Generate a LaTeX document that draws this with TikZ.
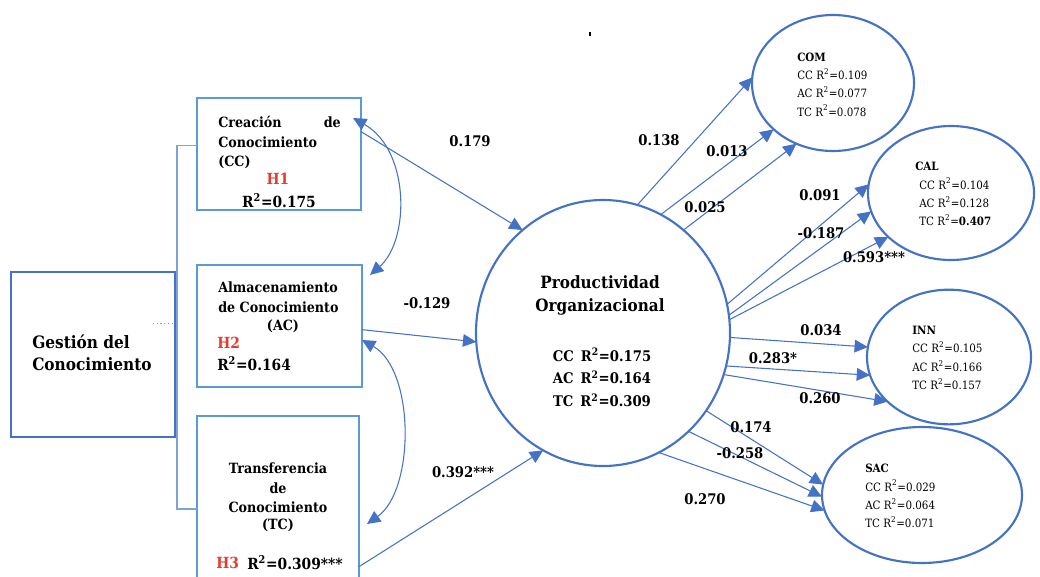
\documentclass[tikz,border=0pt]{standalone}
\usepackage{fontspec}
\IfFontExistsTF{DejaVu Serif Condensed}{\setmainfont{DejaVu Serif Condensed}}{\setmainfont{DejaVu Serif}}
\usetikzlibrary{shapes.geometric,arrows.meta,calc}
\definecolor{edge}{HTML}{4472C4}
\definecolor{boxline}{HTML}{5B9BD5}
\definecolor{thinline}{HTML}{7FA3D9}
\definecolor{hred}{HTML}{E8392F}
\begin{document}
\begin{tikzpicture}[x=0.75pt,y=-0.75pt,
  sbox/.style={draw=boxline,line width=1.6pt,anchor=north west,inner sep=0,outer sep=0},
  mbox/.style={draw=edge,line width=1.8pt,anchor=north west,inner sep=0,outer sep=0},
  oval/.style={draw=edge,line width=1.6pt,ellipse,inner sep=0,outer sep=0},
  arr/.style={draw=edge,line width=0.8pt,-{Triangle[length=10pt,width=9.5pt]}},
  dbl/.style={draw=edge,line width=0.8pt,{Triangle[length=10pt,width=9.5pt]}-{Triangle[length=10pt,width=9.5pt]}},
  link/.style={draw=thinline,line width=0.8pt},
  bt/.style={font=\bfseries\fontsize{10.6}{12}\selectfont,inner sep=0},
  rt/.style={font=\bfseries\fontsize{11.5}{13}\selectfont,inner sep=0},
  hyp/.style={font=\bfseries\fontsize{11.5}{13}\selectfont,text=hred,inner sep=0},
  lab/.style={font=\bfseries\fontsize{11}{13}\selectfont,inner sep=0},
  etxt/.style={font=\fontsize{8.6}{13.7}\selectfont,align=left,inner sep=0,anchor=west},
]
\clip (0,0) rectangle (1040,576);

% small mark near the top
\fill (589,32) rectangle (591,36);

% construct boxes
\node[sbox,minimum width=123pt,minimum height=84pt] (cc) at (197,98) {};
\node[sbox,minimum width=123.75pt,minimum height=91.5pt] (ac) at (197,265) {};
\node[sbox,minimum width=121.5pt,minimum height=139.5pt] (tc) at (197,416) {};

% bracket joining the knowledge-management box to its dimensions
\coordinate (gx) at (177,354.5);
\coordinate (ccl) at ($(cc.north west)!0.42!(cc.south west)$);
\draw[link] (ccl) -- (ccl -| gx) -- (tc.west -| gx) -- (tc.west);
\node[mbox,minimum width=123pt,minimum height=123.75pt] (gc) at (11,272) {};
\draw[link,dotted,line width=1pt] ($(gc.east)+(-22,-31)$) -- ($(gc.east)+(0,-31)$);

\node[bt,font=\bfseries\fontsize{12.8}{16.5}\selectfont,align=left,anchor=west] (gct) at (32,353) {Gesti\'on del\\Conocimiento};

% texts of the three dimension boxes
\node[bt,anchor=west] (cct1) at (218,122) {Creaci\'on};
\node[bt,anchor=east] (cct2) at (341,122) {de};
\node[bt,anchor=west] (cct3) at (218,142) {Conocimiento};
\node[bt,anchor=west] (cct4) at (218,162) {(CC)};
\node[hyp] (h1) at (278,179) {H1};
\node[rt] (cct5) at (279,201) {R\textsuperscript{2}=0.175};

\node[bt,anchor=west] (act1) at (218,287) {Almacenamiento};
\node[bt,anchor=west] (act2) at (218,307) {de Conocimiento};
\node[bt] (act3) at (283,326) {(AC)};
\node[hyp,anchor=west] (h2) at (217,343) {H2};
\node[rt,anchor=west] (act4) at (217,364) {R\textsuperscript{2}=0.164};

\node[bt] (tct1) at (278,468) {Transferencia};
\node[bt] (tct2) at (278,488) {de};
\node[bt] (tct3) at (278,507) {Conocimiento};
\node[bt] (tct4) at (278,525) {(TC)};
\node[hyp,anchor=west] (h3) at (216,563) {H3};
\node[rt,anchor=west] (tct5) at (247,563) {R\textsuperscript{2}=0.309***};

% outcome constructs
\node[oval,minimum width=190.5pt,minimum height=199.5pt] (po) at (603,333) {};
\node[bt,font=\bfseries\fontsize{12.7}{17}\selectfont,align=center] (pot1) at (600,295.5) {Productividad\\Organizacional};
\node[bt,font=\bfseries\fontsize{11}{17}\selectfont,align=center] (pot2) at (602,377.5) {CC\, R\textsuperscript{2}=0.175\\AC\, R\textsuperscript{2}=0.164\\TC\, R\textsuperscript{2}=0.309};

\node[oval,minimum width=121.5pt,minimum height=102pt] (com) at (833,83) {};
\node[etxt] (comt) at (797,84.5) {\textbf{COM}\\CC R\textsuperscript{2}=0.109\\AC R\textsuperscript{2}=0.077\\TC R\textsuperscript{2}=0.078};

\node[oval,minimum width=124.5pt,minimum height=100.5pt] (cal) at (951,193) {};
\node[etxt] (calt) at (919,194) {\hspace*{-3pt}\textbf{CAL}\\CC R\textsuperscript{2}=0.104\\AC R\textsuperscript{2}=0.128\\TC R\textsuperscript{2}=\textbf{0.407}};

\node[oval,minimum width=123pt,minimum height=101pt] (inn) at (949,357) {};
\node[etxt] (innt) at (912,358) {\textbf{INN}\\CC R\textsuperscript{2}=0.105\\AC R\textsuperscript{2}=0.166\\TC R\textsuperscript{2}=0.157};

\node[oval,minimum width=150pt,minimum height=102pt] (sac) at (922,495) {};
\node[etxt] (sact) at (865,496) {\textbf{SAC}\\CC R\textsuperscript{2}=0.029\\AC R\textsuperscript{2}=0.064\\TC R\textsuperscript{2}=0.071};

% correlations between the dimensions
\draw[dbl] ($(cc.north east)+(-8,20)$) .. controls +(57,32) and +(40,-35) .. ($(ac.north east)+(8,10)$);
\draw[dbl] ($(ac.north east)+(0,75)$) .. controls +(53,30) and +(48,-34) .. ($(tc.north east)+(8,108)$);

% paths into Productividad Organizacional
\draw[arr] ($(cc.north east)!0.3!(cc.south east)$) -- (po.128);
\draw[arr] ($(ac.north east)!0.53!(ac.south east)$) -- (po.184);
\draw[arr] ($(tc.north east)!0.81!(tc.south east)$) -- (po.243);
\node[lab] (l1) at (470,141) {0.179};
\node[lab] (l2) at (427,303) {-0.129};
\node[lab] (l3) at (463,472) {0.392***};

% paths to COM
\draw[arr] (po.75.7) -- (com.176.5);
\draw[arr] (po.64.7) -- (com.218.8);
\draw[arr] (po.52.3) -- (com.239.7);
\node[lab] (l4) at (659,140) {0.138};
\node[lab] (l5) at (727,151) {0.013};
\node[lab] (l6) at (705,207) {0.025};

% paths to CAL
\draw[arr] (po.13.3) -- (cal.174.6);
\draw[arr] (po.8.9) -- (cal.193.7);
\draw[arr] (po.6.7) -- (cal.215.5);
\node[lab] (l7) at (820,195) {0.091};
\node[lab] (l8) at (821,233) {-0.187};
\node[lab] (l9) at (874,257) {0.593***};

% paths to INN
\draw[arr] (po.-2.3) -- (inn.173.7);
\draw[arr] (po.-15.4) -- (inn.193.7);
\draw[arr] (po.-19.1) -- (inn.216.6);
\node[lab] (l10) at (821,330) {0.034};
\node[lab] (l11) at (773,358) {0.283*};
\node[lab] (l12) at (820,398) {0.260};

% paths to SAC
\draw[arr] (po.-37.6) -- (sac.174.4);
\draw[arr] (po.-49.6) -- (sac.181.1);
\draw[arr] (po.-65.1) -- (sac.189);
\node[lab] (l13) at (751,427) {0.174};
\node[lab] (l14) at (740,453) {-0.258};
\node[lab] (l15) at (705,499) {0.270};
\end{tikzpicture}
\end{document}
